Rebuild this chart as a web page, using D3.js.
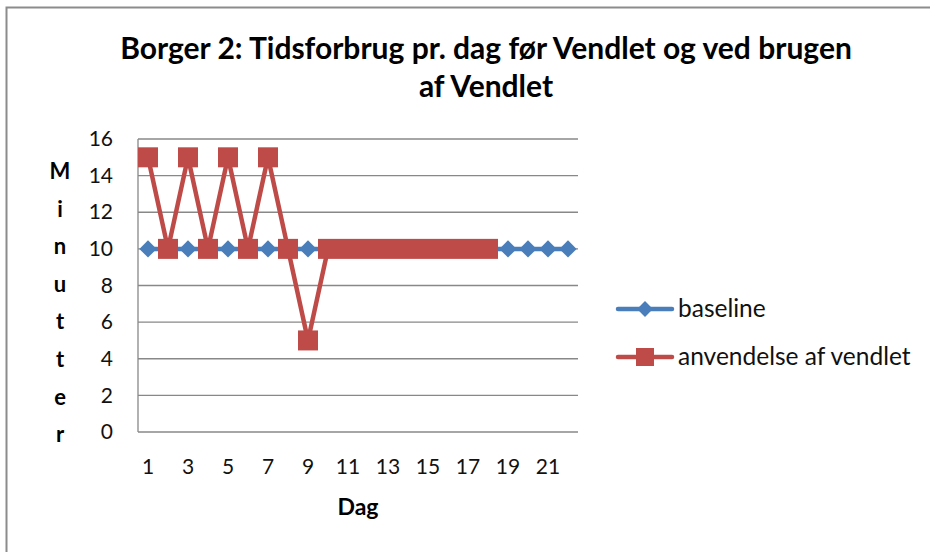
<!DOCTYPE html>
<html>
<head>
<meta charset="utf-8">
<script src="https://cdn.jsdelivr.net/npm/d3@7"></script>
<style>
  body { margin: 0; background: #fff; }
  svg { display: block; font-family: Lato, "Open Sans", sans-serif; }
</style>
</head>
<body>
<div id="chart"></div>
<script>
// data
const days = d3.range(1, 23);                 // Dag 1..22
const baseline = [10,10,10,10,10,10,10,10,10,10,10,10,10,10,10,10,10,10,10,10,10,10];
const vendlet  = [15,10,15,10,15,10,15,10,5,10,10,10,10,10,10,10,10,10];
const yTicks = [0,2,4,6,8,10,12,14,16];
const xLabels = [1,3,5,7,9,11,13,15,17,19,21];
const seriesNames = ["baseline", "anvendelse af vendlet"];
const titleLines = ["Borger 2: Tidsforbrug pr. dag før Vendlet og ved brugen", "af Vendlet"];
const yLetters = "Minutter".split("");

const width = 930, height = 552;
const blue = "#4a7ebb", red = "#be4b48";
const gridCol = "#888";

const svg = d3.select("#chart").append("svg")
  .attr("width", width).attr("height", height);

// outer chart border (runs off right/bottom)
svg.append("path")
  .attr("d", `M6.5,${height+5}V7.5H${width+5}`)
  .attr("fill", "none").attr("stroke", "#8c8c8c").attr("stroke-width", 2);

const x = d3.scaleBand().domain(days).range([138, 578]);
const xc = d => x(d) + x.bandwidth()/2;
const y = d3.scaleLinear().domain([0, 16]).range([432, 139]);

// gridlines
svg.append("g").selectAll("line").data(yTicks).join("line")
  .attr("x1", 138).attr("x2", 578)
  .attr("y1", d => y(d)).attr("y2", d => y(d))
  .attr("stroke", gridCol).attr("stroke-width", 1.3);

// y axis line
svg.append("line")
  .attr("x1", 138).attr("x2", 138).attr("y1", y(16)).attr("y2", y(0))
  .attr("stroke", gridCol).attr("stroke-width", 1.3);

// y axis tick labels
const yAxis = svg.append("g").attr("transform", "translate(138,0)")
  .call(d3.axisLeft(y).tickValues(yTicks).tickSize(0).tickPadding(25));
yAxis.select(".domain").remove();
yAxis.selectAll("text").attr("font-size", 21).attr("fill", "#111")
  .attr("font-family", "Lato, sans-serif");

// x axis labels
const xAxis = svg.append("g").attr("transform", `translate(0,${y(0)})`)
  .call(d3.axisBottom(x).tickValues(xLabels).tickSize(0).tickPadding(27));
xAxis.select(".domain").remove();
xAxis.selectAll("text").attr("font-size", 21).attr("fill", "#111")
  .attr("font-family", "Lato, sans-serif");

// axis titles
svg.append("text")
  .attr("x", 358).attr("y", 515)
  .attr("text-anchor", "middle")
  .attr("font-weight", "bold").attr("font-size", 23)
  .text("Dag");

svg.append("g").selectAll("text").data(yLetters).join("text")
  .attr("x", 60).attr("y", (d, i) => 179 + i * 37.6)
  .attr("text-anchor", "middle")
  .attr("font-weight", "bold").attr("font-size", 22)
  .text(d => d);

// title
svg.append("g").selectAll("text").data(titleLines).join("text")
  .attr("x", 486).attr("y", (d, i) => 59 + i * 38)
  .attr("text-anchor", "middle")
  .attr("font-weight", "bold").attr("font-size", 30)
  .text(d => d);

// lines
const line = d3.line().x((d, i) => xc(days[i])).y(d => y(d));

svg.append("path").datum(baseline)
  .attr("d", line).attr("fill", "none")
  .attr("stroke", blue).attr("stroke-width", 4.5).attr("stroke-linejoin", "round");

svg.append("g").selectAll("path").data(baseline).join("path")
  .attr("d", d3.symbol(d3.symbolDiamond2, 190))
  .attr("transform", (d, i) => `translate(${xc(days[i])},${y(d)})`)
  .attr("fill", blue);

svg.append("path").datum(vendlet)
  .attr("d", line).attr("fill", "none")
  .attr("stroke", red).attr("stroke-width", 4.5).attr("stroke-linejoin", "round");

svg.append("g").selectAll("rect").data(vendlet).join("rect")
  .attr("x", (d, i) => xc(days[i]) - 10).attr("y", d => y(d) - 10)
  .attr("width", 20).attr("height", 20)
  .attr("fill", red);

// legend
const leg = svg.append("g").selectAll("g").data(seriesNames).join("g")
  .attr("transform", (d, i) => `translate(618,${309 + i * 48})`);
leg.append("line")
  .attr("x1", 0).attr("x2", 54)
  .attr("stroke", (d, i) => i ? red : blue).attr("stroke-width", 4.5)
  .attr("stroke-linecap", "round");
leg.filter((d, i) => i === 0).append("path")
  .attr("d", d3.symbol(d3.symbolDiamond2, 160))
  .attr("transform", "translate(27,0)")
  .attr("fill", blue);
leg.filter((d, i) => i === 1).append("rect")
  .attr("x", 18).attr("y", -9).attr("width", 18).attr("height", 18)
  .attr("fill", red);
leg.append("text")
  .attr("x", 60).attr("y", 8)
  .attr("font-size", 24.5).attr("fill", "#111")
  .text(d => d);
</script>
</body>
</html>
